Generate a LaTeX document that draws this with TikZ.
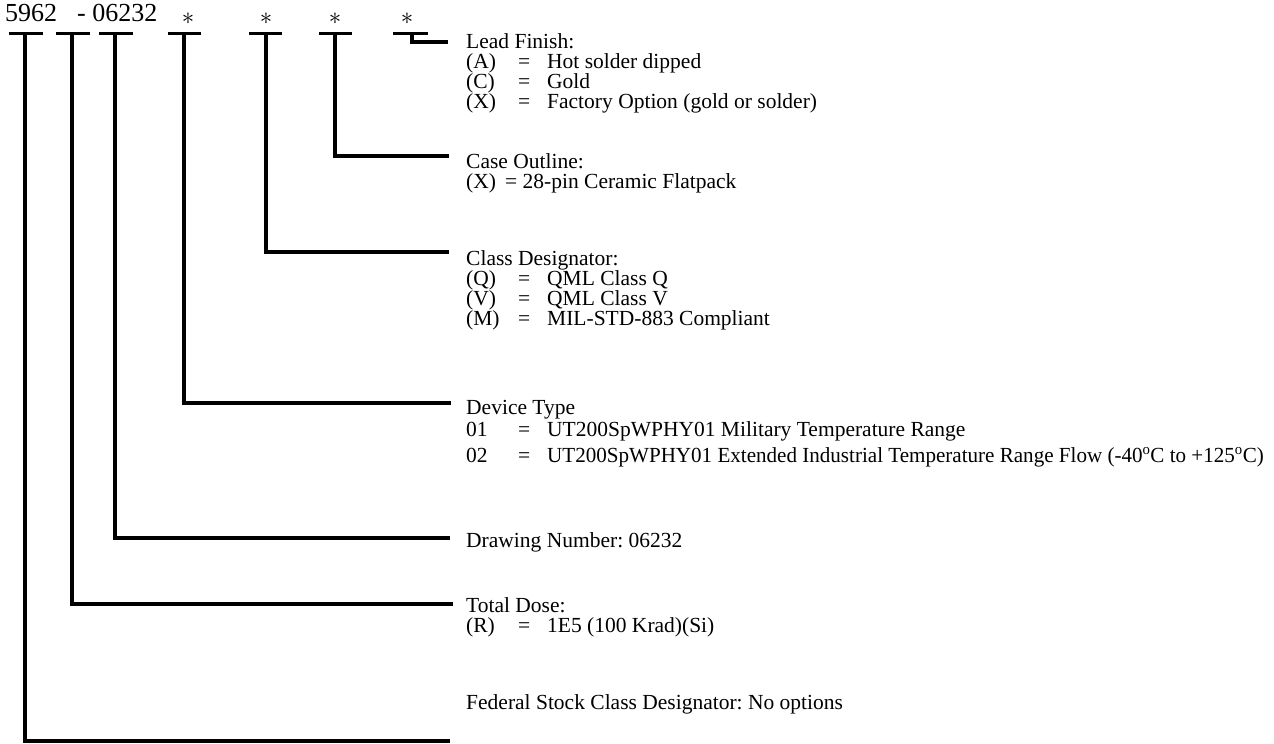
\documentclass[tikz,border=0pt]{standalone}
\usepackage{fontspec}
\setmainfont{Liberation Serif}
\frenchspacing
\newcommand{\optrow}[2]{\makebox[52pt][l]{#1}\makebox[29pt][l]{=}#2}
\begin{document}
\begin{tikzpicture}[x=1pt,y=-1pt,
  bar/.style={line width=3pt},
  conn/.style={line width=3.2pt},
  lbl/.style={anchor=base west, inner sep=0pt, font=\fontsize{21.5}{24}\selectfont},
  pnum/.style={anchor=base west, inner sep=0pt, font=\fontsize{26}{28}\selectfont},
  starmark/.style={anchor=center, inner sep=0pt, font=\fontsize{25}{28}\selectfont}]
\useasboundingbox (0,0) rectangle (1274,744);
% part number
\node[pnum] (pn1) at (5,21) {5962};
\node[pnum] (pn2) at (77,21) {- 06232};
\node[starmark] (s4) at (188,19) {$\ast$};
\node[starmark] (s5) at (266,19) {$\ast$};
\node[starmark] (s6) at (335,19) {$\ast$};
\node[starmark] (s7) at (407,19) {$\ast$};
% bars
\draw[bar] (8.5,33) -- (42.5,33);
\draw[bar] (56,33) -- (90,33);
\draw[bar] (99,33) -- (133,33);
\draw[bar] (168,33) -- (201,33);
\draw[bar] (249,33) -- (282,33);
\draw[bar] (319,33) -- (352,33);
\draw[bar] (393,33) -- (428,33);
% bar tops
\coordinate (t1) at (25,33);
\coordinate (t2) at (72,33);
\coordinate (t3) at (115,33);
\coordinate (t4) at (184,33);
\coordinate (t5) at (266,33);
\coordinate (t6) at (335,33);
\coordinate (t7) at (412,33);
% connector ends
\coordinate (e7) at (448,42);
\coordinate (e6) at (449,156);
\coordinate (e5) at (449,252);
\coordinate (e4) at (451,403);
\coordinate (e3) at (450,538);
\coordinate (e2) at (453,604);
\coordinate (e1) at (450,741);
\draw[conn] (t7) |- (e7);
\draw[conn] (t6) |- (e6);
\draw[conn] (t5) |- (e5);
\draw[conn] (t4) |- (e4);
\draw[conn] (t3) |- (e3);
\draw[conn] (t2) |- (e2);
\draw[conn] (t1) |- (e1);
% Lead finish
\node[lbl] (lf0) at (466,48) {Lead Finish:};
\node[lbl] (lf1) at (466,68) {\optrow{(A)}{Hot solder dipped}};
\node[lbl] (lf2) at (466,88) {\optrow{(C)}{Gold}};
\node[lbl] (lf3) at (466,108) {\optrow{(X)}{Factory Option (gold or solder)}};
% Case outline
\node[lbl] (co0) at (466,168) {Case Outline:};
\node[lbl] (co1) at (466,188) {\makebox[39pt][l]{(X)}= 28-pin Ceramic Flatpack};
% Class designator
\node[lbl] (cd0) at (466,265) {Class Designator:};
\node[lbl] (cd1) at (466,285) {\optrow{(Q)}{QML Class Q}};
\node[lbl] (cd2) at (466,305) {\optrow{(V)}{QML Class V}};
\node[lbl] (cd3) at (466,325) {\optrow{(M)}{MIL-STD-883 Compliant}};
% Device type
\node[lbl] (dt0) at (466,414) {Device Type};
\node[lbl] (dt1) at (466,436) {\optrow{01}{UT200SpWPHY01 Military Temperature Range}};
\node[lbl] (dt2) at (466,462) {\optrow{02}{\scalebox{0.98}[1]{UT200SpWPHY01 Extended Industrial Temperature Range Flow (-40\textsuperscript{o}C to +125\textsuperscript{o}C)}}};
% Drawing number
\node[lbl] (dn0) at (466,547) {Drawing Number: 06232};
% Total dose
\node[lbl] (td0) at (466,612) {Total Dose:};
\node[lbl] (td1) at (466,632) {\optrow{(R)}{1E5 (100 Krad)(Si)}};
% Federal stock
\node[lbl] (fs0) at (466,709) {Federal Stock Class Designator: No options};
\end{tikzpicture}
\end{document}
